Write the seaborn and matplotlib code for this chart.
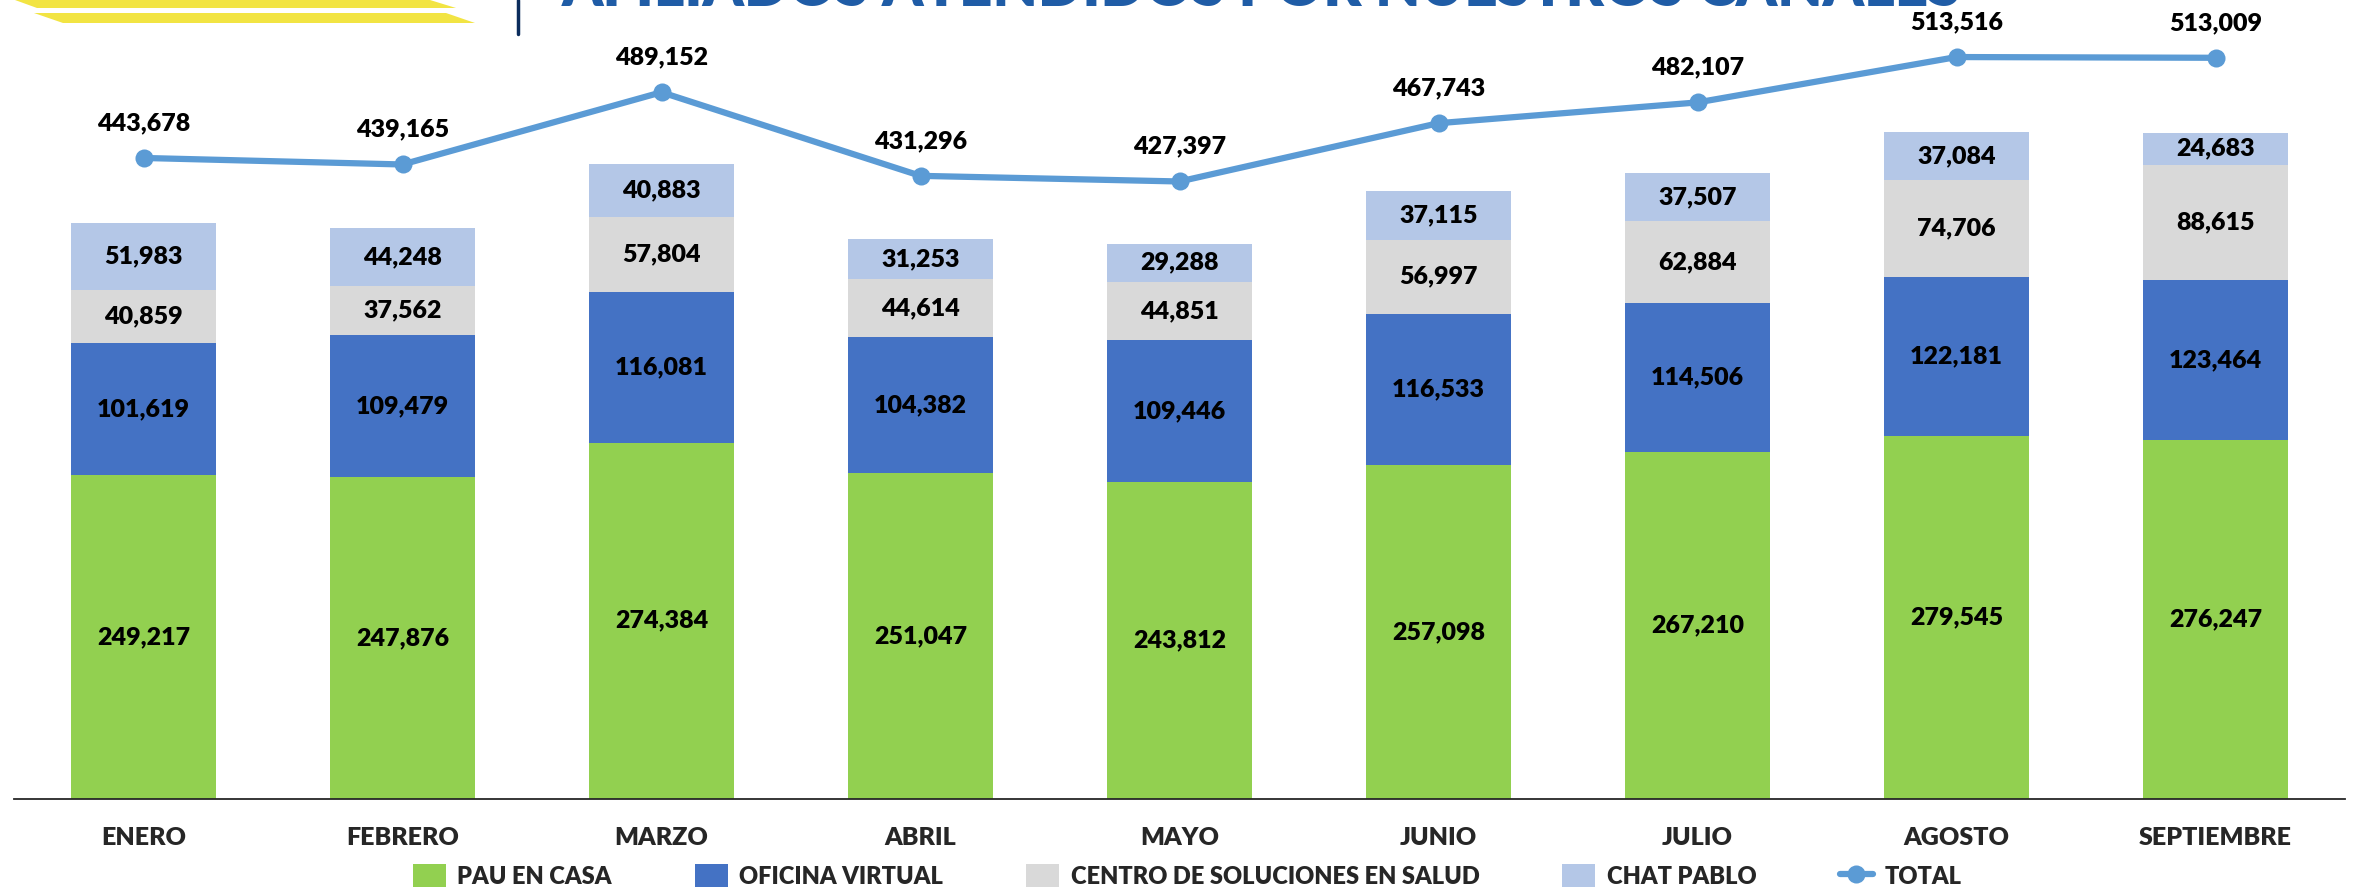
import numpy as np
import matplotlib
matplotlib.use("Agg")
import matplotlib.pyplot as plt
from matplotlib.patches import Patch, Polygon
from matplotlib.lines import Line2D
import seaborn as sns

# datos
meses = ['ENERO', 'FEBRERO', 'MARZO', 'ABRIL', 'MAYO', 'JUNIO', 'JULIO', 'AGOSTO', 'SEPTIEMBRE']
pau_en_casa = [249217, 247876, 274384, 251047, 243812, 257098, 267210, 279545, 276247]
oficina_virtual = [101619, 109479, 116081, 104382, 109446, 116533, 114506, 122181, 123464]
centro_soluciones = [40859, 37562, 57804, 44614, 44851, 56997, 62884, 74706, 88615]
chat_pablo = [51983, 44248, 40883, 31253, 29288, 37115, 37507, 37084, 24683]
total = [443678, 439165, 489152, 431296, 427397, 467743, 482107, 513516, 513009]

series = ['PAU EN CASA', 'OFICINA VIRTUAL', 'CENTRO DE SOLUCIONES EN SALUD', 'CHAT PABLO']
colores = ['#92D050', '#4472C4', '#D9D9D9', '#B4C7E7']
color_linea = '#5B9BD5'
peso = 'heavy'

sns.set_style('white')
plt.rcParams['font.family'] = ['Lato', 'DejaVu Sans']

W, H = 2357, 892
fig = plt.figure(figsize=(W / 100, H / 100), dpi=100)
ax = fig.add_axes([14 / W, 93 / H, (2345 - 14) / W, 799 / H])

capas = [pau_en_casa, oficina_virtual, centro_soluciones, chat_pablo]
acumulado = np.cumsum(np.array(capas), axis=0)

# dibujamos de arriba hacia abajo para que las barras se apilen
for k in range(len(capas) - 1, -1, -1):
    sns.barplot(x=meses, y=acumulado[k], color=colores[k], saturation=1,
                width=0.557, errorbar=None, linewidth=0, ax=ax)

# etiquetas dentro de cada segmento
for k, capa in enumerate(capas):
    base = acumulado[k] - np.array(capa)
    for i, v in enumerate(capa):
        ax.text(i, base[i] + v / 2, f'{v:,}', ha='center', va='center',
                fontsize=18, fontweight=peso, color='black')

ax.set_xlim(-0.5, len(meses) - 0.5)
ax.set_ylim(0, 615000)
ax.set_xlabel('')
ax.set_ylabel('')
ax.set_yticks([])
for lado in ['top', 'left', 'right']:
    ax.spines[lado].set_visible(False)
ax.spines['bottom'].set_color('#262626')
ax.spines['bottom'].set_linewidth(1.3)
ax.set_xticks(range(len(meses)))
ax.set_xticklabels(meses, fontsize=18, fontweight=peso)
ax.set_xticks(np.arange(-0.5, len(meses)), minor=True)
ax.tick_params(axis='x', which='major', length=0, pad=20)
ax.tick_params(axis='x', which='minor', length=11, width=1.3, color='#262626', direction='out')

# linea del total en eje secundario
ax2 = ax.twinx()
sns.lineplot(x=np.arange(len(meses)), y=total, color=color_linea, linewidth=4.5,
             marker='o', markersize=13, markeredgewidth=0, ax=ax2)
ax2.set_ylim(0, 553000)
ax2.set_xlim(-0.5, len(meses) - 0.5)
ax2.set_yticks([])
ax2.set_ylabel('')
for lado in ['top', 'left', 'right', 'bottom']:
    ax2.spines[lado].set_visible(False)
for i, v in enumerate(total):
    ax2.annotate(f'{v:,}', (i, v), xytext=(0, 20), textcoords='offset points',
                 ha='center', va='baseline', fontsize=18, fontweight=peso, color='black')

# leyenda
manejadores = [Patch(facecolor=c, edgecolor='none', label=s) for s, c in zip(series, colores)]
manejadores.append(Line2D([], [], color=color_linea, linewidth=4.5, marker='o', markersize=13,
                          markeredgewidth=0, label='TOTAL'))
fig.legend(handles=manejadores, loc='center', bbox_to_anchor=(1187 / W, 16 / H), ncol=5,
           frameon=False, prop={'size': 17, 'weight': peso}, handlelength=1.4,
           handleheight=1.1, handletextpad=0.5, columnspacing=3.5)

# encabezado recortado (logo y titulo)
amarillo = '#F2E443'
fig.patches.append(Polygon([(15 / W, 1), (430 / W, 1), (456 / W, 1 - 8 / H), (37 / W, 1 - 8 / H)],
                           closed=True, transform=fig.transFigure, facecolor=amarillo, edgecolor='none'))
fig.patches.append(Polygon([(34 / W, 1 - 13 / H), (446 / W, 1 - 13 / H), (475 / W, 1 - 23 / H), (63 / W, 1 - 23 / H)],
                           closed=True, transform=fig.transFigure, facecolor=amarillo, edgecolor='none'))
fig.add_artist(Line2D([518 / W, 518 / W], [1, 1 - 34 / H], transform=fig.transFigure,
                      color='#0B2C5C', linewidth=2.5))
fig.text(562 / W, 1 - 6 / H, 'AFILIADOS ATENDIDOS POR NUESTROS CANALES', ha='left', va='baseline',
         fontsize=42, fontweight=peso, color='#1F5CA6')

fig.savefig('out.png', dpi=100)
